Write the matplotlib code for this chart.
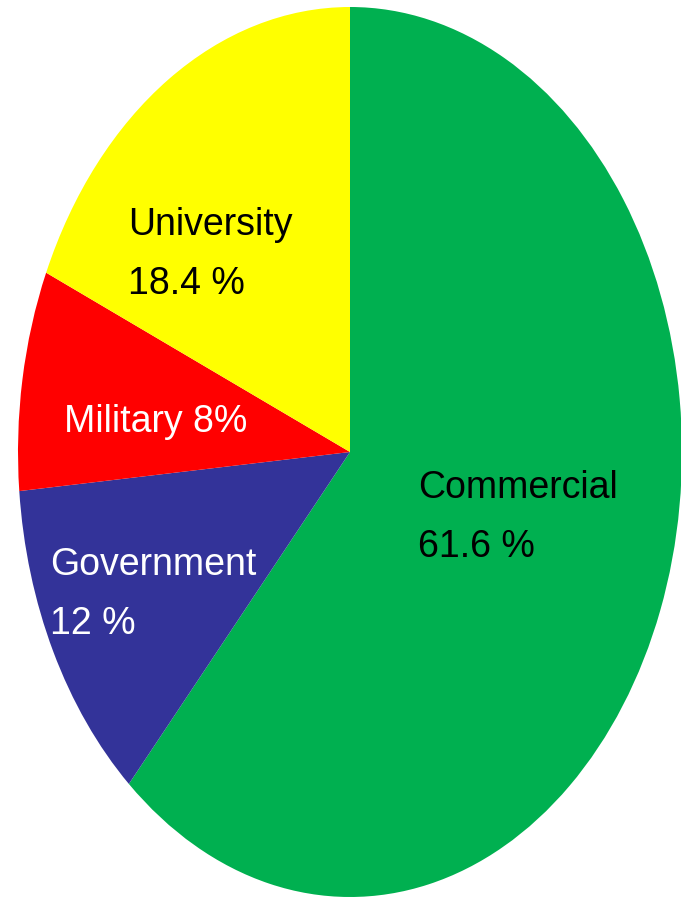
import matplotlib
matplotlib.use("Agg")
import matplotlib.pyplot as plt

# ---------- Data ----------
labels = ["Commercial", "Government", "Military", "University"]
shares = [61.6, 12.0, 8.0, 18.4]
colors = ["#00B050", "#333399", "#FF0000", "#FFFF00"]
label_text = [
    ("Commercial", "61.6 %"),
    ("Government", "12 %"),
    ("Military 8%", None),
    ("University", "18.4 %"),
]
text_colors = ["black", "white", "white", "black"]

W, H = 681, 898
fig = plt.figure(figsize=(W / 100, H / 100), dpi=100)
ax = fig.add_axes([0, 0, 1, 1])

ax.pie(shares, colors=colors, startangle=90, counterclock=False,
       wedgeprops=dict(linewidth=0))
ax.set_aspect("auto")

# stretch the unit pie into the ellipse seen in the picture
rx, ry = 332.0, 445.0
left_px, top_px = 18.0, 7.0
xmin = -1 - left_px / rx
ymax = 1 + top_px / ry
ax.set_xlim(xmin, xmin + W / rx)
ax.set_ylim(ymax - H / ry, ymax)
ax.axis("off")

# label positions in pixels (left x, baseline y of first line)
label_pos = [(418, 498), (50, 575), (64, 432), (128, 235)]
font = ["Liberation Sans Narrow", "Liberation Sans", "DejaVu Sans"]

for (l1, l2), (px, py), tc in zip(label_text, label_pos, text_colors):
    fig.text(px / W, 1 - py / H, l1, color=tc, fontsize=27, family=font,
             ha="left", va="baseline")
    if l2:
        fig.text(px / W, 1 - (py + 59) / H, l2, color=tc, fontsize=27,
                 family=font, ha="left", va="baseline")

fig.savefig("out.png", dpi=100)
